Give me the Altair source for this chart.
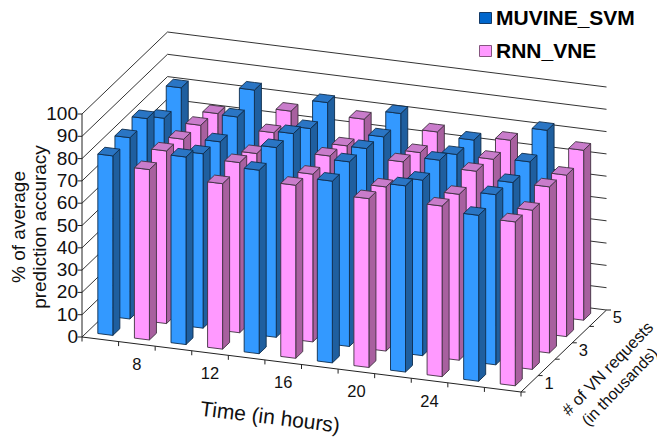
import altair as alt
import pandas as pd

# ---- values ----
times = [6, 8, 10, 12, 14, 16, 18, 20, 22, 24, 26, 28]
labelled_times = [8, 12, 16, 20, 24]
requests = [1, 2, 3, 4, 5]
labelled_requests = [1, 3, 5]
accuracy_ticks = [0, 10, 20, 30, 40, 50, 60, 70, 80, 90, 100]

muvine_1 = [80.5, 84.1, 82.3, 81.5, 83.5, 74.4]
muvine_2 = [81.3, 78.2, 85.1, 82.8, 78.7, 76.3]
muvine_3 = [82.5, 76.2, 84.0, 81.4, 80.3, 74.4]
muvine_4 = [75.3, 80.0, 78.9, 79.3, 75.5, 76.3]
muvine_5 = [81.6, 84.7, 83.2, 82.4, 74.6, 83.1]
rnn_1 = [76.4, 74.2, 77.6, 75.7, 76.5, 73.5]
rnn_2 = [77.4, 76.3, 75.2, 73.6, 74.4, 71.4]
rnn_3 = [75.3, 73.0, 76.0, 77.5, 77.4, 74.5]
rnn_4 = [74.2, 75.0, 73.2, 74.3, 75.4, 72.4]
rnn_5 = [72.1, 77.3, 77.8, 76.2, 76.6, 76.2]
muvine = [muvine_1, muvine_2, muvine_3, muvine_4, muvine_5]
rnn = [rnn_1, rnn_2, rnn_3, rnn_4, rnn_5]

BLUE = dict(front="#3399FF", side="#1F5F9F", top="#2A75C4", line="#0E2C4C")
PINK = dict(front="#FF99FF", side="#A8609F", top="#C97CCB", line="#40303F")

# ---- oblique projection of (time cell, request cell, accuracy) ----
OX, OY = 82.0, 337.0
AX, AY = 439.0 / 12, 55.0 / 12
DX, DY = 85.5 / 5, -82.0 / 5
VY = 2.23
BAR = 0.41
GAP = (1 - BAR) / 2


def proj(u, v, w=0.0):
    return OX + AX * u + DX * v, OY + AY * u + DY * v - VY * w


def face_rows(poly):
    """Split a convex polygon into x-sorted upper/lower rows for an area mark."""
    xs = sorted({round(p[0], 3) for p in poly})
    n = len(poly)
    rows = []
    for x in xs:
        ys = []
        for i in range(n):
            a, b = poly[i], poly[(i + 1) % n]
            xa, xb = round(a[0], 3), round(b[0], 3)
            if xa == xb:
                if xa == x:
                    ys += [a[1], b[1]]
            elif min(xa, xb) <= x <= max(xa, xb):
                ys.append(a[1] + (b[1] - a[1]) * (x - xa) / (xb - xa))
        rows.append((x, min(ys), max(ys)))
    return rows


rows = []
fid = 0
for r in reversed(range(len(requests))):
    for c in range(len(times)):
        val = (muvine if c % 2 == 0 else rnn)[r][c // 2]
        pal = BLUE if c % 2 == 0 else PINK
        u0, u1 = c + GAP, c + GAP + BAR
        v0, v1 = r + GAP, r + GAP + BAR
        faces = [
            ("side", [proj(u1, v0), proj(u1, v1), proj(u1, v1, val), proj(u1, v0, val)]),
            ("front", [proj(u0, v0), proj(u1, v0), proj(u1, v0, val), proj(u0, v0, val)]),
            ("top", [proj(u0, v0, val), proj(u1, v0, val), proj(u1, v1, val), proj(u0, v1, val)]),
        ]
        for name, poly in faces:
            for x, a, b in face_rows(poly):
                rows.append(dict(face=f"f{fid:04d}", x=x, y=a, y2=b, fill=pal[name], stroke=pal["line"]))
            fid += 1
bars_df = pd.DataFrame(rows)

X = alt.Scale(domain=[8, 657], range=[0, 649], nice=False, zero=False)
Y = alt.Scale(domain=[438, 8], range=[430, 0], nice=False, zero=False)


def segs(items, color, width):
    df = pd.DataFrame([dict(x=a[0], y=a[1], x2=b[0], y2=b[1]) for a, b in items])
    return alt.Chart(df).mark_rule(color=color, strokeWidth=width).encode(
        x=alt.X("x:Q", scale=X, axis=None), y=alt.Y("y:Q", scale=Y, axis=None), x2="x2:Q", y2="y2:Q"
    )


def texts(items, size, angle=0, align="center", weight="normal", color="#111111"):
    df = pd.DataFrame([dict(x=p[0], y=p[1], t=s) for p, s in items])
    return alt.Chart(df).mark_text(
        font="Liberation Sans", fontSize=size, angle=angle, align=align, baseline="middle",
        fontWeight=weight, color=color,
    ).encode(x=alt.X("x:Q", scale=X, axis=None), y=alt.Y("y:Q", scale=Y, axis=None), text="t:N")


NC, NR = len(times), len(requests)
grid = []
for w in accuracy_ticks:
    grid.append((proj(0, 0, w), proj(0, NR, w)))
    grid.append((proj(0, NR, w), proj(NC, NR, w)))
axis_lines = [(proj(0, 0, 0), proj(0, 0, 100)), (proj(0, 0), proj(NC, 0)), (proj(NC, 0), proj(NC, NR))]
ticks = []
for w in accuracy_ticks:
    p = proj(0, 0, w)
    ticks.append(((p[0] - 4.5, p[1]), p))
for c in range(NC + 1):
    p = proj(c, 0)
    ticks.append((p, (p[0], p[1] + 4.5)))
for r in range(NR + 1):
    p = proj(NC, r)
    ticks.append((p, (p[0] + 4.5, p[1])))

y_labels = [((78, proj(0, 0, w)[1]), str(w)) for w in accuracy_ticks]
x_labels = []
for t in labelled_times:
    p = proj(times.index(t) + 0.5, 0)
    x_labels.append(((p[0], p[1] + 21), str(t)))
d_labels = []
for q in labelled_requests:
    p = proj(NC, requests.index(q) + 0.5)
    d_labels.append(((p[0] + 19.5, p[1]), str(q)))

bars = alt.Chart(bars_df).mark_area(strokeWidth=0.9, interpolate="linear", opacity=1).encode(
    x=alt.X("x:Q", scale=X, axis=None),
    y=alt.Y("y:Q", scale=Y, axis=None),
    y2="y2:Q",
    detail="face:N",
    fill=alt.Fill("fill:N", scale=None),
    stroke=alt.Stroke("stroke:N", scale=None),
)

legend_df = pd.DataFrame([
    dict(x=479.5, x2=491.5, y=12.5, y2=23.5, fill="#0066CC", stroke="#143A66"),
    dict(x=479.5, x2=491.5, y=45.5, y2=56.5, fill="#FF99FF", stroke="#85557F"),
])
legend_keys = alt.Chart(legend_df).mark_rect(strokeWidth=1).encode(
    x=alt.X("x:Q", scale=X, axis=None), x2="x2:Q",
    y=alt.Y("y:Q", scale=Y, axis=None), y2="y2:Q",
    fill=alt.Fill("fill:N", scale=None), stroke=alt.Stroke("stroke:N", scale=None),
)

chart = alt.layer(
    segs(grid, "#333333", 1),
    segs(axis_lines, "#222222", 1),
    segs(ticks, "#222222", 1),
    bars,
    texts(y_labels, 19, align="right"),
    texts(x_labels, 16.5),
    texts(d_labels, 16.5),
    texts([((19, 227), "% of average"), ((40, 227), "prediction accuracy")], 19, angle=270),
    texts([((270, 418), "Time (in hours)")], 21, angle=7),
    texts([((608, 369), "# of VN requests")], 16.5, angle=314),
    texts([((620, 387), "(in thousands)")], 16, angle=314),
    legend_keys,
    texts([((496, 18.5), "MUVINE_SVM"), ((496, 52), "RNN_VNE")], 21, align="left", weight="bold", color="#000000"),
).properties(width=649, height=430, padding=0, background="white",
             autosize=alt.AutoSizeParams(type="none")).configure_view(stroke=None)

chart.save("out.html", embed_options={"renderer": "svg", "actions": False})
